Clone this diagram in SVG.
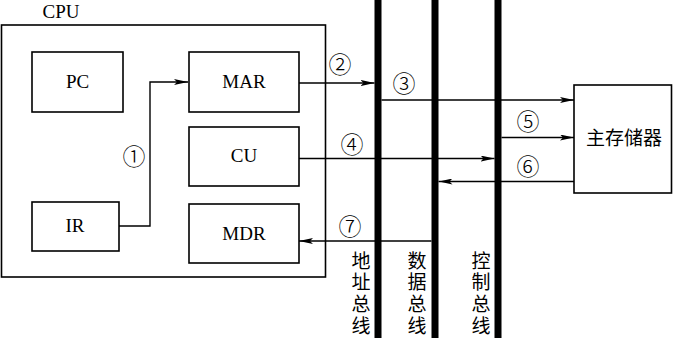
<svg xmlns="http://www.w3.org/2000/svg" width="673" height="338" viewBox="0 0 673 338">
<style>
.box{fill:none;stroke:#000;stroke-width:1.6}
.lt{font-family:"Liberation Serif","Times New Roman",serif;font-size:19px;fill:#000;text-anchor:middle}
.cj{font-family:"Noto Sans CJK SC","Noto Sans",sans-serif;font-size:19px;fill:#000;text-anchor:middle}
.vt{font-family:"Noto Sans CJK SC","Noto Sans",sans-serif;font-size:19px;fill:#000;writing-mode:vertical-rl;letter-spacing:2.6px}
.num{font-family:"Noto Sans CJK SC","DejaVu Sans",sans-serif;font-size:23px;font-weight:300;fill:#000;text-anchor:middle}
.ln{fill:none;stroke:#000;stroke-width:1.4}
.bus{fill:#000}
</style>
<defs>
<marker id="ah" viewBox="0 0 14 6" refX="14" refY="3" markerWidth="14" markerHeight="6" markerUnits="userSpaceOnUse" orient="auto">
<path d="M0,0 L14,3 L0,6 L3,3 Z" fill="#000"/>
</marker>
</defs>
<rect width="673" height="338" fill="#fff"/>
<g id="cpu">
<rect class="box" x="1.5" y="25" width="324" height="252"/>
<text class="lt" x="61" y="18">CPU</text>
</g>
<g id="pc"><rect class="box" x="32" y="52" width="91" height="60"/><text class="lt" x="77.5" y="88">PC</text></g>
<g id="mar"><rect class="box" x="189" y="52" width="110" height="60"/><text class="lt" x="244" y="88">MAR</text></g>
<g id="cu"><rect class="box" x="189" y="127" width="110" height="59"/><text class="lt" x="244" y="162">CU</text></g>
<g id="ir"><rect class="box" x="32" y="202" width="87" height="49"/><text class="lt" x="75" y="232">IR</text></g>
<g id="mdr"><rect class="box" x="189" y="204" width="110" height="59"/><text class="lt" x="244" y="240">MDR</text></g>
<g id="mem"><rect class="box" x="574" y="85" width="97.5" height="108"/><text class="cj" x="624" y="145">主存储器</text></g>
<g id="addrbus"><rect class="bus" x="374.5" y="0" width="7" height="338"/>
<text class="vt" x="361" y="251">地址总线</text></g>
<g id="databus"><rect class="bus" x="431.5" y="0" width="7" height="338"/>
<text class="vt" x="417" y="251">数据总线</text></g>
<g id="ctrlbus"><rect class="bus" x="494.5" y="0" width="7" height="338"/>
<text class="vt" x="481" y="251">控制总线</text></g>
<g id="connectors">
<polyline class="ln" points="119,226 150,226 150,82 188,82" marker-end="url(#ah)"/>
<line class="ln" x1="299" y1="83" x2="374.5" y2="83" marker-end="url(#ah)"/>
<line class="ln" x1="381.5" y1="100" x2="574" y2="100" marker-end="url(#ah)"/>
<line class="ln" x1="501.5" y1="137.5" x2="574" y2="137.5" marker-end="url(#ah)"/>
<line class="ln" x1="299" y1="158.5" x2="494.5" y2="158.5" marker-end="url(#ah)"/>
<line class="ln" x1="574" y1="181.5" x2="438.5" y2="181.5" marker-end="url(#ah)"/>
<line class="ln" x1="431.5" y1="241" x2="299" y2="241" marker-end="url(#ah)"/>
<text class="num" x="134" y="165">①</text>
<text class="num" x="340" y="73">②</text>
<text class="num" x="404" y="92">③</text>
<text class="num" x="352" y="153">④</text>
<text class="num" x="528" y="130">⑤</text>
<text class="num" x="528" y="175">⑥</text>
<text class="num" x="350" y="235">⑦</text>
</g>
</svg>
